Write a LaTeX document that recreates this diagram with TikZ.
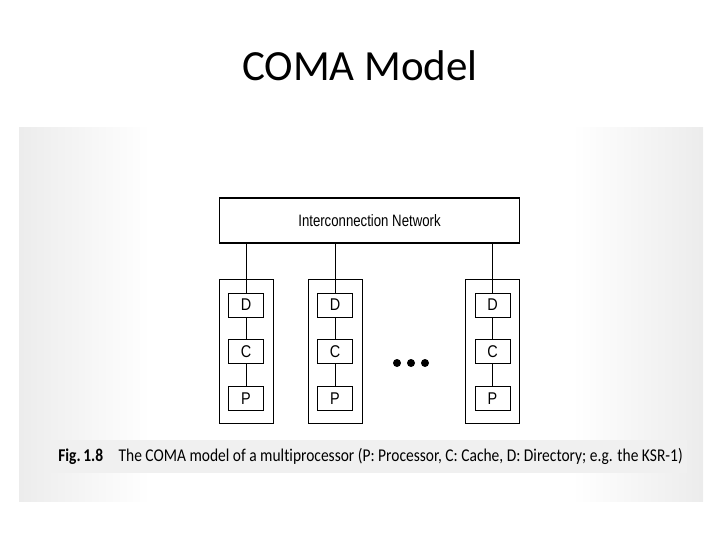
\documentclass[tikz,border=0pt]{standalone}
\usepackage{fontspec}
\setmainfont[RawFeature=-liga]{Carlito}
\newfontfamily\figfont{Liberation Sans}
\usetikzlibrary{positioning}

\begin{document}
\begin{tikzpicture}[
  x=1pt, y=-1pt,
  node distance=22pt,
  net/.style={draw, line width=1.1pt, minimum width=300pt, minimum height=45pt, inner sep=0pt, font=\figfont\fontsize{16.5}{18}\selectfont},
  pe/.style={draw, line width=1pt, minimum width=54pt, minimum height=144pt, inner sep=0pt},
  unit/.style={draw, line width=0.7pt, minimum width=35pt, minimum height=24pt, inner sep=0pt, font=\figfont\fontsize{17}{18}\selectfont},
  wire/.style={line width=0.7pt},
]
\useasboundingbox (0,0) rectangle (720,540);
% Title
\node (title) at (360,66) {\fontsize{43}{50}\selectfont COMA Model};
% Picture panel
\fill[white] (19,128) rectangle (703,501);
\shade[left color=gray!15, right color=white] (19,128) rectangle (150,501);
\shade[left color=white, right color=gray!15] (572,128) rectangle (703,501);
% Interconnection network
\node[net] (net) at (369.5,220.5) {\scalebox{0.8}[1]{Interconnection Network}};
% Processing elements
\foreach \n/\x in {1/246,2/335,3/492.5} {
  \node[pe] (pe\n) at (\x,351) {};
  \node[unit] (d\n) at (\x,305) {\scalebox{0.85}[1]{D}};
  \node[unit, below=of d\n] (c\n) {\scalebox{0.85}[1]{C}};
  \node[unit, below=of c\n] (p\n) {\scalebox{0.85}[1]{P}};
  \draw[wire] (d\n.north |- net.south) -- (d\n.north);
  \draw[wire] (d\n) -- (c\n);
  \draw[wire] (c\n) -- (p\n);
}
% Ellipsis
\foreach \x in {397,411,425} \fill (\x,363) circle (4pt);
% Caption
\fill[gray!12] (50,440) rectangle (687,473);
\node (caption) at (370.5,456) {\fontsize{18}{20}\selectfont\scalebox{0.86}[1]{\textbf{Fig.\,1.8}\quad The COMA model of a multiprocessor (P: Processor, C: Cache, D: Directory;\ e.g. the KSR-1)}};
\end{tikzpicture}
\end{document}
